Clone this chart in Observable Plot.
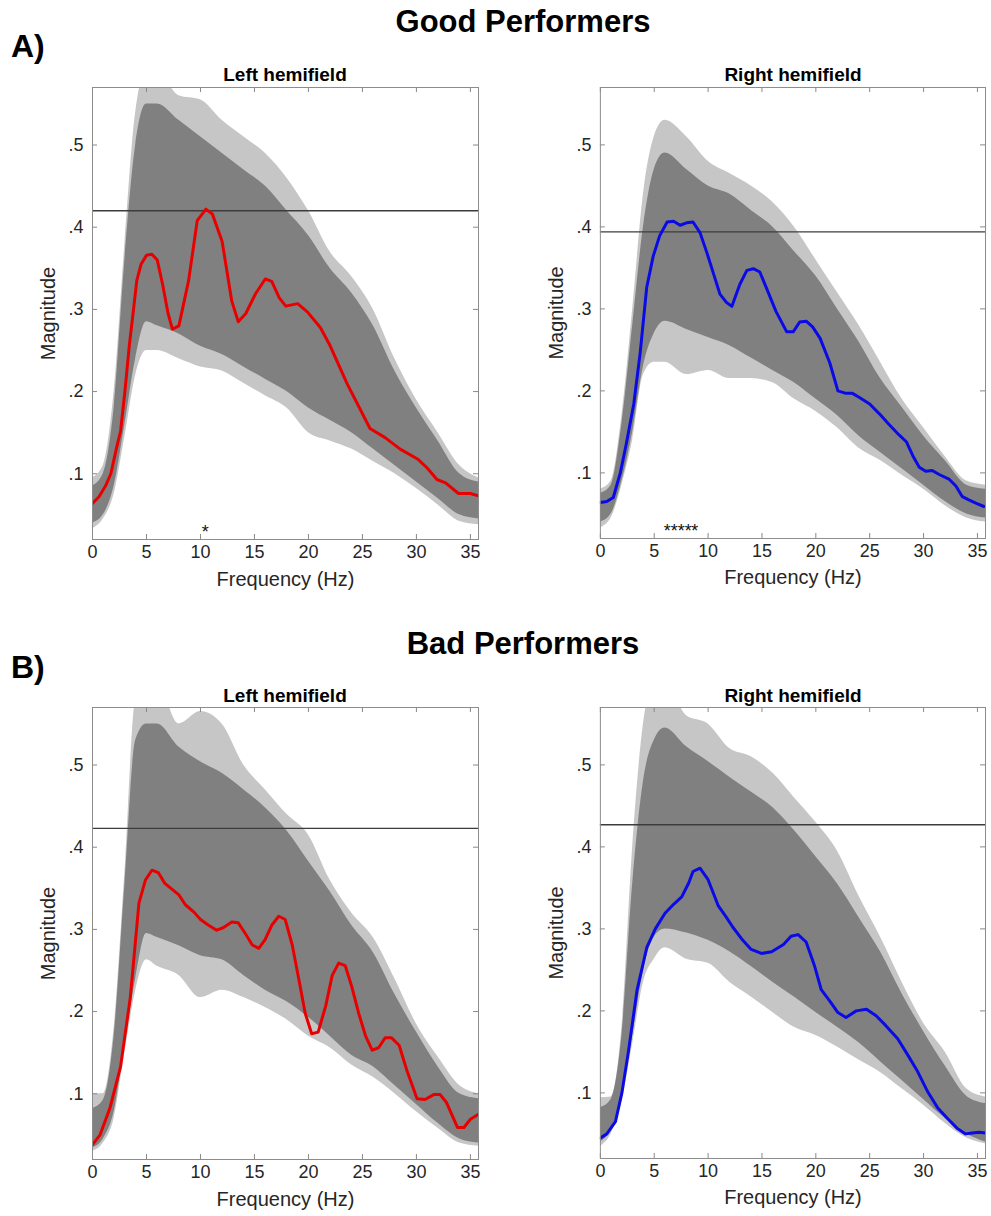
<!DOCTYPE html>
<html>
<head>
<meta charset="utf-8">
<script src="https://cdn.jsdelivr.net/npm/d3@7"></script>
<script src="https://cdn.jsdelivr.net/npm/@observablehq/plot@0.6"></script>
<style>
  html, body { margin: 0; padding: 0; background: #fff; }
  #root { position: relative; width: 991px; height: 1216px; font-family: "Liberation Sans", Arial, sans-serif; color: #000; }
  .t { position: absolute; white-space: nowrap; font-weight: bold; transform: translate(-50%, -50%); }
  .lab { position: absolute; white-space: nowrap; font-weight: bold; transform: translate(0, -50%); }
  .panel { position: absolute; }
  .panel svg g[aria-label="x-axis label"] text, .panel svg g[aria-label="y-axis label"] text { font-size: 20px; }
</style>
</head>
<body>
<div id="root"></div>
<script>
// ---------- shared axes ----------
const xTicks = [0, 5, 10, 15, 20, 25, 30, 35];
const yTicks = [0.1, 0.2, 0.3, 0.4, 0.5];
const xDomain = [0, 35.75];
const yDomain = [0.02, 0.57];

// ---------- surrogate distribution envelope (grey band), sampled at bandHz ----------
const bandHz = [0, 1, 2, 3, 4, 5, 6, 8, 10, 12, 14, 16, 18, 20, 22, 24, 26, 28, 30, 32, 34, 35.75];

// Good performers, left hemifield
const goodLeftInnerTop    = [0.085, 0.10, 0.18, 0.36, 0.50, 0.55, 0.55, 0.53, 0.51, 0.49, 0.47, 0.45, 0.42, 0.39, 0.35, 0.32, 0.28, 0.225, 0.18, 0.14, 0.10, 0.09];
const goodLeftInnerBottom = [0.04, 0.05, 0.085, 0.16, 0.24, 0.285, 0.28, 0.27, 0.255, 0.245, 0.23, 0.215, 0.20, 0.18, 0.165, 0.15, 0.13, 0.11, 0.09, 0.07, 0.05, 0.045];
const goodLeftOuterTop    = [0.095, 0.11, 0.20, 0.38, 0.54, 0.59, 0.59, 0.56, 0.555, 0.53, 0.51, 0.49, 0.46, 0.42, 0.37, 0.34, 0.30, 0.24, 0.19, 0.15, 0.11, 0.095];
const goodLeftOuterBottom = [0.033, 0.045, 0.075, 0.145, 0.22, 0.25, 0.25, 0.24, 0.23, 0.225, 0.21, 0.195, 0.18, 0.15, 0.14, 0.13, 0.115, 0.10, 0.082, 0.062, 0.042, 0.038];

// Good performers, right hemifield
const goodRightInnerTop    = [0.075, 0.085, 0.16, 0.28, 0.40, 0.47, 0.49, 0.47, 0.45, 0.44, 0.42, 0.40, 0.37, 0.34, 0.30, 0.26, 0.215, 0.18, 0.145, 0.115, 0.085, 0.08];
const goodRightInnerBottom = [0.04, 0.05, 0.09, 0.15, 0.23, 0.27, 0.285, 0.275, 0.265, 0.255, 0.24, 0.225, 0.21, 0.19, 0.17, 0.145, 0.125, 0.105, 0.085, 0.065, 0.05, 0.045];
const goodRightOuterTop    = [0.08, 0.09, 0.17, 0.30, 0.44, 0.51, 0.53, 0.51, 0.48, 0.465, 0.45, 0.43, 0.40, 0.36, 0.32, 0.28, 0.235, 0.19, 0.155, 0.12, 0.09, 0.085];
const goodRightOuterBottom = [0.033, 0.045, 0.085, 0.14, 0.22, 0.235, 0.235, 0.22, 0.225, 0.215, 0.215, 0.21, 0.19, 0.175, 0.155, 0.13, 0.115, 0.097, 0.08, 0.06, 0.045, 0.04];

// Bad performers, left hemifield
const badLeftInnerTop    = [0.082, 0.092, 0.17, 0.355, 0.53, 0.55, 0.55, 0.522, 0.504, 0.49, 0.47, 0.448, 0.42, 0.383, 0.346, 0.305, 0.272, 0.221, 0.175, 0.133, 0.10, 0.094];
const badLeftInnerBottom = [0.034, 0.045, 0.078, 0.16, 0.24, 0.295, 0.29, 0.28, 0.268, 0.263, 0.244, 0.226, 0.212, 0.193, 0.17, 0.147, 0.133, 0.11, 0.087, 0.064, 0.045, 0.04];
const badLeftOuterTop    = [0.10, 0.10, 0.18, 0.37, 0.58, 0.60, 0.60, 0.55, 0.565, 0.55, 0.50, 0.47, 0.44, 0.415, 0.36, 0.32, 0.29, 0.24, 0.185, 0.145, 0.11, 0.10];
const badLeftOuterBottom = [0.03, 0.04, 0.07, 0.15, 0.225, 0.263, 0.255, 0.244, 0.217, 0.226, 0.217, 0.205, 0.19, 0.17, 0.156, 0.135, 0.12, 0.10, 0.078, 0.058, 0.04, 0.036];

// Bad performers, right hemifield
const badRightInnerTop    = [0.082, 0.092, 0.17, 0.355, 0.48, 0.53, 0.545, 0.522, 0.504, 0.485, 0.467, 0.448, 0.42, 0.388, 0.355, 0.314, 0.272, 0.221, 0.175, 0.133, 0.096, 0.087];
const badRightInnerBottom = [0.04, 0.055, 0.096, 0.17, 0.249, 0.29, 0.30, 0.295, 0.286, 0.272, 0.254, 0.235, 0.217, 0.198, 0.18, 0.161, 0.138, 0.115, 0.092, 0.069, 0.05, 0.04];
const badRightOuterTop    = [0.094, 0.095, 0.18, 0.40, 0.55, 0.60, 0.60, 0.56, 0.55, 0.52, 0.51, 0.49, 0.46, 0.43, 0.395, 0.34, 0.29, 0.235, 0.185, 0.15, 0.105, 0.095];
const badRightOuterBottom = [0.035, 0.05, 0.09, 0.16, 0.235, 0.263, 0.277, 0.263, 0.258, 0.235, 0.217, 0.198, 0.18, 0.17, 0.156, 0.14, 0.125, 0.105, 0.085, 0.063, 0.045, 0.038];

// ---------- observed spectra (coloured lines) ----------
const goodLeftHz  = [0, 0.6, 1.2, 1.7, 2.2, 2.6, 3.0, 3.4, 3.8, 4.1, 4.5, 5.0, 5.5, 6.0, 6.5, 7.0, 7.4, 8.0, 8.9, 9.7, 10.5, 11.1, 12.0, 12.9, 13.5, 14.2, 15.1, 16.0, 16.6, 17.3, 17.9, 19.0, 19.9, 21.1, 22.0, 23.6, 25.7, 27.1, 28.5, 30.1, 31.0, 31.9, 32.7, 33.9, 35.0, 35.75];
const goodLeftMag = [0.064, 0.072, 0.085, 0.10, 0.13, 0.152, 0.20, 0.255, 0.30, 0.335, 0.355, 0.366, 0.367, 0.36, 0.33, 0.295, 0.276, 0.28, 0.335, 0.408, 0.422, 0.416, 0.383, 0.31, 0.285, 0.295, 0.319, 0.337, 0.334, 0.314, 0.304, 0.307, 0.297, 0.278, 0.256, 0.209, 0.155, 0.144, 0.130, 0.118, 0.107, 0.093, 0.089, 0.076, 0.076, 0.073];

const goodRightHz  = [0, 0.6, 1.2, 1.85, 2.4, 3.1, 3.7, 4.3, 4.9, 5.5, 6.2, 6.8, 7.4, 8.0, 8.6, 9.25, 9.9, 10.5, 11.1, 11.7, 12.2, 12.95, 13.6, 14.2, 14.8, 15.4, 16.3, 17.3, 17.9, 18.5, 19.1, 19.7, 20.4, 21.3, 22.05, 22.8, 23.4, 24.05, 25.0, 25.9, 26.8, 27.75, 28.4, 29.0, 29.6, 30.2, 30.8, 31.45, 32.4, 33.0, 33.6, 34.2, 34.85, 35.6];
const goodRightMag = [0.064, 0.065, 0.07, 0.10, 0.135, 0.184, 0.247, 0.326, 0.364, 0.389, 0.406, 0.407, 0.402, 0.405, 0.406, 0.393, 0.368, 0.343, 0.318, 0.308, 0.303, 0.33, 0.347, 0.349, 0.345, 0.326, 0.297, 0.272, 0.272, 0.284, 0.285, 0.278, 0.264, 0.234, 0.20, 0.197, 0.197, 0.192, 0.184, 0.172, 0.159, 0.146, 0.138, 0.121, 0.107, 0.102, 0.103, 0.098, 0.092, 0.084, 0.071, 0.067, 0.063, 0.059];

const badLeftHz  = [0, 0.7, 1.6, 2.6, 3.5, 4.3, 4.9, 5.5, 6.1, 6.7, 7.35, 8.0, 8.6, 9.4, 10.0, 10.75, 11.5, 12.1, 12.9, 13.5, 14.15, 14.8, 15.4, 16.0, 16.6, 17.25, 17.85, 18.5, 19.1, 19.7, 20.3, 20.9, 21.6, 22.2, 22.8, 23.4, 24.0, 24.65, 25.3, 25.9, 26.5, 27.1, 27.7, 28.4, 29.1, 30.06, 30.8, 31.6, 32.2, 32.8, 33.8, 34.4, 35.0, 35.75];
const badLeftMag = [0.038, 0.05, 0.082, 0.133, 0.217, 0.332, 0.36, 0.372, 0.369, 0.356, 0.349, 0.342, 0.33, 0.321, 0.312, 0.305, 0.299, 0.302, 0.309, 0.308, 0.295, 0.281, 0.277, 0.288, 0.305, 0.316, 0.312, 0.281, 0.24, 0.198, 0.173, 0.175, 0.207, 0.244, 0.259, 0.256, 0.231, 0.198, 0.17, 0.153, 0.156, 0.168, 0.168, 0.159, 0.129, 0.094, 0.093, 0.099, 0.099, 0.089, 0.059, 0.059, 0.069, 0.075];

const badRightHz  = [0, 0.6, 1.4, 2.0, 2.6, 3.4, 4.3, 5.1, 6.0, 6.8, 7.55, 8.2, 8.6, 9.25, 10.0, 10.95, 11.7, 12.3, 13.1, 14.0, 14.95, 15.9, 17.0, 17.7, 18.35, 19.1, 19.9, 20.5, 21.3, 22.05, 22.8, 23.75, 24.7, 25.6, 26.5, 27.6, 28.5, 29.45, 30.4, 31.3, 32.2, 33.1, 33.9, 34.5, 35.15, 35.75];
const badRightMag = [0.045, 0.05, 0.065, 0.10, 0.15, 0.225, 0.277, 0.30, 0.319, 0.33, 0.339, 0.356, 0.37, 0.374, 0.36, 0.328, 0.314, 0.302, 0.288, 0.275, 0.27, 0.272, 0.281, 0.291, 0.293, 0.284, 0.254, 0.226, 0.212, 0.198, 0.192, 0.20, 0.202, 0.194, 0.182, 0.166, 0.147, 0.126, 0.101, 0.082, 0.069, 0.057, 0.05, 0.051, 0.052, 0.051];

// ---------- significance thresholds and markers ----------
const thresholds = { goodLeft: 0.42, goodRight: 0.394, badLeft: 0.423, badRight: 0.427 };
const goodLeftStars = [10.45];
const goodRightStars = [6.2, 6.85, 7.5, 8.15, 8.75];
const badLeftStars = [];
const badRightStars = [];

// ---------- text ----------
const headings = [
  { text: "Good Performers", x: 523, y: 22, size: 31 },
  { text: "Bad Performers", x: 523, y: 644, size: 31 }
];
const panelLetters = [
  { text: "A)", x: 11, y: 46 },
  { text: "B)", x: 11, y: 667 }
];
const panelTitles = [
  { text: "Left hemifield", x: 285, y: 75 },
  { text: "Right hemifield", x: 793, y: 75 },
  { text: "Left hemifield", x: 285, y: 696 },
  { text: "Right hemifield", x: 793, y: 696 }
];

// ---------- layout ----------
const ML = 60, MR = 6, MT = 6, MB = 62;
const FW = 386, FH = 452;

function makePanel(p) {
  const band = bandHz.map((f, i) => ({ f, it: p.it[i], ib: p.ib[i], ot: p.ot[i], ob: p.ob[i] }));
  const trace = p.hz.map((f, i) => ({ f, v: p.mag[i] }));
  const tl = 5;
  return Plot.plot({
    width: ML + FW + MR, height: MT + FH + MB,
    marginLeft: ML, marginRight: MR, marginTop: MT, marginBottom: MB,
    style: { fontFamily: "'Liberation Sans', Arial, sans-serif", fontSize: "18px", color: "#262626", background: "transparent" },
    x: { domain: xDomain, ticks: xTicks, tickSize: 0, tickPadding: 6, label: "Frequency (Hz)", labelArrow: "none", labelAnchor: "center", labelOffset: 46 },
    y: { domain: yDomain, ticks: yTicks, tickSize: 0, tickPadding: 9, tickFormat: d => d.toFixed(1).replace(/^0/, ""), label: "Magnitude", labelArrow: "none", labelAnchor: "center", labelOffset: 52 },
    marks: [
      Plot.areaY(band, { x: "f", y1: "ob", y2: "ot", fill: "#c6c6c6", curve: "monotone-x", clip: true }),
      Plot.areaY(band, { x: "f", y1: "ib", y2: "it", fill: "#808080", curve: "monotone-x", clip: true }),
      Plot.ruleY([p.threshold], { stroke: "#3c3c3c", strokeWidth: 1.3 }),
      Plot.lineY(trace, { x: "f", y: "v", stroke: p.color, strokeWidth: 3, strokeLinejoin: "round", clip: true }),
      Plot.text(p.stars, { x: d => d, y: () => 0.034, text: () => "*", fontSize: 18, fill: "#111", dy: 4 }),
      Plot.tickX(xTicks, { x: d => d, insetTop: FH - tl, stroke: "#888" }),
      Plot.tickX(xTicks, { x: d => d, insetBottom: FH - tl, stroke: "#888" }),
      Plot.tickY(yTicks, { y: d => d, insetRight: FW - tl, stroke: "#888" }),
      Plot.tickY(yTicks, { y: d => d, insetLeft: FW - tl, stroke: "#888" }),
      Plot.frame({ stroke: "#8c8c8c" })
    ]
  });
}

const root = document.getElementById("root");
const panels = [
  { fx: 92, fy: 87, hz: goodLeftHz, mag: goodLeftMag, color: "#e80000", threshold: thresholds.goodLeft, stars: goodLeftStars,
    it: goodLeftInnerTop, ib: goodLeftInnerBottom, ot: goodLeftOuterTop, ob: goodLeftOuterBottom },
  { fx: 600, fy: 87, hz: goodRightHz, mag: goodRightMag, color: "#0a0ae6", threshold: thresholds.goodRight, stars: goodRightStars,
    it: goodRightInnerTop, ib: goodRightInnerBottom, ot: goodRightOuterTop, ob: goodRightOuterBottom },
  { fx: 92, fy: 707, hz: badLeftHz, mag: badLeftMag, color: "#e80000", threshold: thresholds.badLeft, stars: badLeftStars,
    it: badLeftInnerTop, ib: badLeftInnerBottom, ot: badLeftOuterTop, ob: badLeftOuterBottom },
  { fx: 600, fy: 707, hz: badRightHz, mag: badRightMag, color: "#0a0ae6", threshold: thresholds.badRight, stars: badRightStars,
    it: badRightInnerTop, ib: badRightInnerBottom, ot: badRightOuterTop, ob: badRightOuterBottom }
];
for (const p of panels) {
  const d = document.createElement("div");
  d.className = "panel";
  d.style.left = (p.fx - ML) + "px";
  d.style.top = (p.fy - MT) + "px";
  d.appendChild(makePanel(p));
  root.appendChild(d);
}
for (const h of headings) {
  const d = document.createElement("div");
  d.className = "t"; d.textContent = h.text;
  d.style.left = h.x + "px"; d.style.top = h.y + "px"; d.style.fontSize = h.size + "px";
  root.appendChild(d);
}
for (const h of panelLetters) {
  const d = document.createElement("div");
  d.className = "lab"; d.textContent = h.text;
  d.style.left = h.x + "px"; d.style.top = h.y + "px"; d.style.fontSize = "32px";
  root.appendChild(d);
}
for (const h of panelTitles) {
  const d = document.createElement("div");
  d.className = "t"; d.textContent = h.text;
  d.style.left = h.x + "px"; d.style.top = h.y + "px"; d.style.fontSize = "19px";
  root.appendChild(d);
}
</script>
</body>
</html>
